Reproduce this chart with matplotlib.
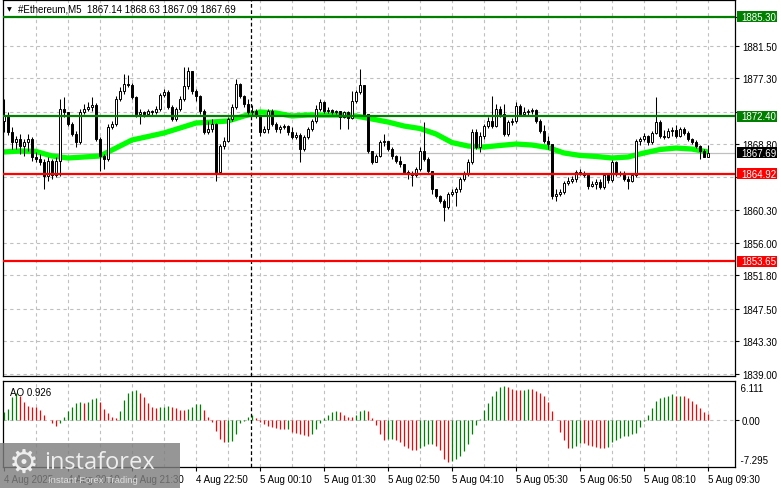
import numpy as np
import matplotlib
matplotlib.use('Agg')
import matplotlib.pyplot as plt
from matplotlib.patches import Rectangle
from matplotlib.transforms import blended_transform_factory

plt.rcParams['font.family'] = ['Liberation Sans', 'DejaVu Sans']

# chart data (ETH M5)
title = '#Ethereum,M5  1867.14 1868.63 1867.09 1867.69'
first_open = 1871.78
closes = [
    1872.43, 1870.36, 1869.06, 1869.45, 1868.54, 1869.06, 1869.45, 1867.12, 1866.86, 1866.47,
    1864.66, 1866.60, 1864.79, 1866.60, 1873.34, 1872.95, 1871.39, 1870.10, 1869.06, 1872.95,
    1873.34, 1873.59, 1873.85, 1869.45, 1867.25, 1866.86, 1871.00, 1871.39, 1874.63, 1875.67,
    1876.57, 1876.44, 1874.89, 1872.69, 1872.95, 1872.69, 1873.08, 1872.95, 1873.34, 1875.15,
    1875.54, 1873.59, 1872.04, 1873.34, 1874.63, 1876.31, 1878.26, 1875.67, 1875.02, 1873.08,
    1870.36, 1870.74, 1871.39, 1865.18, 1868.54, 1869.19, 1872.04, 1873.59, 1876.57, 1875.02,
    1873.98, 1872.95, 1873.08, 1872.43, 1870.36, 1870.74, 1873.08, 1871.39, 1870.74, 1871.00,
    1871.13, 1870.36, 1869.71, 1869.97, 1868.15, 1869.71, 1870.74, 1871.78, 1873.34, 1874.24,
    1873.08, 1873.21, 1872.95, 1873.08, 1872.30, 1872.95, 1872.17, 1874.37, 1875.54, 1876.44,
    1872.69, 1867.90, 1866.47, 1867.25, 1869.06, 1869.19, 1868.15, 1867.25, 1866.60, 1866.21,
    1865.18, 1864.92, 1864.79, 1865.57, 1867.90, 1866.86, 1865.31, 1862.97, 1862.07, 1861.42,
    1860.64, 1862.33, 1862.59, 1862.97, 1864.27, 1864.92, 1866.47, 1870.36, 1868.41, 1869.84,
    1871.13, 1871.78, 1871.13, 1873.34, 1872.69, 1870.10, 1871.65, 1871.78, 1873.72, 1872.69,
    1872.95, 1873.08, 1873.21, 1871.78, 1870.49, 1869.19, 1868.80, 1862.07, 1862.33, 1862.59,
    1863.75, 1864.01, 1864.27, 1865.18, 1865.05, 1864.79, 1863.36, 1863.62, 1863.88, 1863.23,
    1864.79, 1864.14, 1866.47, 1864.92, 1865.05, 1864.27, 1864.01, 1864.79, 1869.19, 1869.45,
    1869.84, 1869.06, 1870.23, 1871.65, 1869.84, 1869.71, 1870.49, 1870.61, 1869.84, 1870.74,
    1870.23, 1869.45, 1869.06, 1868.54, 1867.90, 1867.14, 1867.69]
highs = [
    1874.63, 1872.95, 1871.00, 1869.84, 1870.10, 1869.45, 1870.10, 1869.71, 1867.77, 1867.51,
    1866.86, 1867.12, 1866.86, 1867.12, 1874.63, 1874.89, 1872.95, 1871.65, 1870.49, 1873.34,
    1873.98, 1874.24, 1874.89, 1874.11, 1869.71, 1867.51, 1871.39, 1871.78, 1875.02, 1876.18,
    1877.87, 1877.74, 1876.70, 1875.02, 1873.34, 1873.08, 1873.34, 1873.21, 1873.72, 1875.41,
    1875.93, 1875.80, 1873.85, 1873.59, 1875.02, 1878.77, 1878.77, 1878.26, 1875.93, 1875.15,
    1873.34, 1871.78, 1872.04, 1871.52, 1868.80, 1869.71, 1872.30, 1873.98, 1877.22, 1876.70,
    1875.15, 1874.63, 1873.85, 1873.34, 1872.56, 1871.13, 1873.34, 1873.34, 1871.65, 1871.26,
    1871.39, 1871.26, 1871.00, 1870.36, 1870.23, 1869.97, 1871.00, 1872.04, 1873.85, 1874.63,
    1874.37, 1873.59, 1873.34, 1873.21, 1873.08, 1873.08, 1873.08, 1875.67, 1875.80, 1878.52,
    1876.18, 1872.69, 1867.90, 1867.51, 1869.32, 1870.10, 1869.06, 1868.41, 1867.38, 1867.25,
    1866.21, 1865.44, 1865.31, 1865.82, 1868.41, 1871.65, 1867.12, 1865.31, 1862.97, 1862.20,
    1861.68, 1862.59, 1862.97, 1863.23, 1864.53, 1865.31, 1866.86, 1870.74, 1870.74, 1870.36,
    1871.39, 1872.30, 1875.02, 1873.98, 1873.72, 1873.98, 1871.91, 1872.17, 1874.24, 1873.98,
    1873.59, 1873.34, 1873.46, 1873.34, 1872.04, 1871.26, 1869.84, 1868.80, 1862.97, 1862.97,
    1864.01, 1864.53, 1864.66, 1865.44, 1865.57, 1865.31, 1864.92, 1864.01, 1864.27, 1864.27,
    1865.05, 1864.92, 1866.73, 1866.60, 1865.31, 1865.31, 1864.66, 1865.05, 1869.45, 1869.71,
    1870.23, 1869.97, 1870.49, 1874.89, 1871.91, 1870.61, 1870.87, 1871.00, 1871.26, 1871.00,
    1871.00, 1870.49, 1869.58, 1869.32, 1868.67, 1868.15, 1868.63]
lows = [
    1870.36, 1869.97, 1868.15, 1868.15, 1867.51, 1867.25, 1867.90, 1866.60, 1866.47, 1866.08,
    1862.97, 1864.01, 1864.27, 1864.53, 1864.66, 1872.30, 1871.13, 1869.84, 1868.41, 1868.80,
    1872.69, 1873.08, 1873.08, 1869.19, 1865.31, 1865.57, 1866.60, 1870.74, 1871.13, 1874.37,
    1875.28, 1876.18, 1874.63, 1872.30, 1871.39, 1872.30, 1872.43, 1872.56, 1872.69, 1873.08,
    1874.89, 1873.34, 1871.78, 1871.78, 1873.08, 1874.37, 1875.93, 1875.28, 1874.37, 1872.69,
    1870.10, 1870.10, 1870.36, 1864.01, 1864.92, 1868.15, 1869.06, 1871.78, 1873.34, 1874.76,
    1873.59, 1872.69, 1872.56, 1872.17, 1869.84, 1870.23, 1870.23, 1871.13, 1870.36, 1870.23,
    1870.74, 1869.97, 1869.45, 1869.45, 1866.47, 1867.90, 1869.45, 1870.49, 1871.52, 1873.08,
    1872.82, 1872.82, 1872.69, 1872.69, 1870.74, 1872.17, 1870.74, 1872.04, 1874.11, 1875.28,
    1872.43, 1867.64, 1866.21, 1866.60, 1867.12, 1868.54, 1867.90, 1866.86, 1866.34, 1865.82,
    1864.92, 1864.27, 1863.36, 1864.53, 1865.31, 1866.60, 1865.05, 1862.33, 1861.81, 1861.16,
    1858.83, 1860.39, 1862.07, 1860.77, 1862.59, 1864.01, 1864.66, 1866.21, 1868.15, 1867.77,
    1869.45, 1870.87, 1870.87, 1871.00, 1872.30, 1869.84, 1869.84, 1871.26, 1871.52, 1872.43,
    1872.56, 1872.56, 1872.69, 1871.52, 1870.23, 1868.93, 1868.15, 1861.68, 1861.42, 1862.07,
    1862.33, 1863.49, 1863.75, 1863.88, 1864.79, 1864.53, 1862.97, 1863.23, 1862.97, 1862.97,
    1862.97, 1863.75, 1863.88, 1864.66, 1864.66, 1864.01, 1862.97, 1863.88, 1864.53, 1868.67,
    1869.19, 1868.67, 1868.80, 1870.10, 1869.58, 1869.45, 1869.58, 1869.84, 1869.58, 1869.71,
    1869.97, 1869.19, 1868.80, 1868.28, 1866.86, 1867.12, 1867.09]

# green moving average, sampled every 4th bar
ma_bars = list(range(0, 177, 4))
ma_values = [
    1867.77, 1867.90, 1867.84, 1867.25, 1866.99, 1867.12, 1867.25, 1868.28, 1869.32, 1869.77,
    1870.23, 1870.87, 1871.52, 1871.65, 1871.78, 1872.43, 1872.95, 1872.82, 1872.43, 1872.56,
    1872.56, 1872.56, 1872.43, 1872.04, 1871.65, 1871.13, 1870.81, 1870.10, 1868.99, 1868.54,
    1868.41, 1868.61, 1868.80, 1868.67, 1868.35, 1867.64, 1867.32, 1867.19, 1866.99, 1867.12,
    1867.64, 1868.09, 1868.28, 1868.15, 1867.77]

# awesome oscillator
ao_values = [
    1.25, 1.77, 3.59, 4.27, 3.75, 2.92, 2.19, 2.14, 2.08, 1.61,
    0.83, 0.10, -0.47, -0.94, -0.47, 0.57, 1.41, 2.03, 2.76, 2.86,
    2.71, 2.92, 3.33, 3.49, 2.81, 1.77, 1.09, 0.57, 0.36, 1.51,
    3.23, 4.27, 4.64, 4.74, 4.27, 3.59, 2.71, 2.03, 1.88, 2.08,
    2.14, 2.19, 2.03, 1.88, 1.67, 1.61, 1.77, 2.03, 2.50, 2.60,
    1.61, 0.47, -0.31, -1.61, -2.92, -3.44, -3.39, -3.18, -2.14, -0.47,
    -0.05, 0.47, 0.83, 0.31, -0.21, -0.57, -0.83, -1.09, -1.25, -1.35,
    -1.41, -1.30, -1.88, -2.03, -2.14, -2.29, -2.40, -2.14, -1.35, -0.47,
    0.31, 0.83, 1.25, 1.41, 1.25, 0.83, 0.57, 0.52, 0.83, 1.51,
    1.67, 1.41, 0.31, -0.68, -2.14, -3.07, -2.92, -2.86, -3.07, -3.33,
    -3.96, -4.32, -4.58, -4.69, -4.38, -3.96, -3.70, -3.65, -3.96, -4.64,
    -6.04, -6.56, -6.41, -6.04, -5.52, -4.74, -3.70, -2.14, -0.68, 0.16,
    1.67, 2.71, 3.85, 4.53, 5.16, 5.42, 5.16, 4.90, 4.79, 4.74,
    4.79, 4.90, 4.84, 4.64, 4.27, 3.85, 2.81, 1.41, 0.10, -1.77,
    -3.02, -4.32, -4.30, -3.96, -3.54, -3.59, -3.80, -3.96, -4.22, -4.32,
    -4.36, -4.22, -3.33, -3.02, -2.76, -2.50, -2.40, -2.14, -1.98, -1.09,
    -0.16, 0.83, 1.88, 3.07, 3.44, 3.59, 3.85, 4.11, 3.75, 3.85,
    3.75, 3.44, 3.02, 2.55, 1.88, 1.25, 0.926]
ao_label = 'AO 0.926'
ao_max_label = '6.111'
ao_min_label = '-7.295'

green_levels = [1885.30, 1872.40]
red_levels = [1864.92, 1853.65]
price_ticks = [1885.30, 1881.50, 1877.30, 1873.00, 1868.80, 1864.50,
               1860.30, 1856.00, 1851.80, 1847.50, 1843.30, 1839.00]
# these three sit under the level boxes on the price scale
hidden_ticks = [1885.30, 1873.00, 1864.50]
time_label_bars = list(range(0, 177, 16))
time_labels = ['4 Aug 2025', '4 Aug 20:10', '4 Aug 21:30', '4 Aug 22:50',
               '5 Aug 00:10', '5 Aug 01:30', '5 Aug 02:50', '5 Aug 04:10',
               '5 Aug 05:30', '5 Aug 06:50', '5 Aug 08:10', '5 Aug 09:30']
separator_bar = 61.75

W, H = 781, 489
fig = plt.figure(figsize=(W / 100, H / 100), dpi=100)
ax = fig.add_axes([3 / W, 1 - 377 / H, 732 / W, 376 / H])
ax2 = fig.add_axes([3 / W, 1 - 468 / H, 732 / W, 86.5 / H], sharex=ax)

n = len(closes)
x = np.arange(n)
c = np.array(closes)
o = np.array([first_open] + closes[:-1])
hi = np.maximum(np.array(highs), np.maximum(o, c))
lo = np.minimum(np.array(lows), np.minimum(o, c))

grid_kw = dict(color='#c0c0c0', lw=0.8, ls=(0, (3, 3)), zorder=0)
for a in (ax, ax2):
    for b in range(8, n, 8):
        a.axvline(b, **grid_kw)
    a.axvline(separator_bar, color='black', lw=0.9, ls=(0, (3, 2)), zorder=1)
    for s in a.spines.values():
        s.set_linewidth(0.9)
for p in price_ticks:
    ax.axhline(p, **grid_kw)

# bid line
ax.axhline(closes[-1], color='#c0c0c0', lw=0.9, zorder=1)

# moving average
ax.plot(ma_bars, ma_values, color='#00ff00', lw=3.8, zorder=2, solid_capstyle='butt')

# candles
ax.vlines(x, lo, hi, color='black', lw=0.75, zorder=3)
up = c >= o
ax.bar(x[up], (c - o)[up], bottom=o[up], width=0.6, color='white',
       edgecolor='black', lw=0.7, zorder=4)
ax.bar(x[~up], (o - c)[~up], bottom=c[~up], width=0.6, color='black',
       edgecolor='black', lw=0.7, zorder=4)

for v in green_levels:
    ax.axhline(v, color='#007f00', lw=1.6, zorder=5)
for v in red_levels:
    ax.axhline(v, color='#ff0000', lw=1.6, zorder=5)

ymin, ymax = 1838.76, 1887.45
ax.set_ylim(ymin, ymax)
ax.set_xlim(-0.25, 182.75)
ax.yaxis.tick_right()
ax.set_yticks(price_ticks)
ax.set_yticklabels(['' if p in hidden_ticks else '%.2f' % p for p in price_ticks])
ax.tick_params(axis='y', length=3, width=0.8, pad=2, labelsize=7)
ax.tick_params(axis='x', bottom=False, labelbottom=False)

# value boxes on the price scale
per_px = (ymax - ymin) / 376
tr = blended_transform_factory(fig.transFigure, ax.transData)
boxes = [(v, '#007f00') for v in green_levels] + [(v, '#ff0000') for v in red_levels] \
    + [(closes[-1], 'black')]
for v, col in boxes:
    ax.add_patch(Rectangle((737 / W, v - 5.5 * per_px), 40 / W, 11 * per_px,
                           transform=tr, fc=col, ec='none', clip_on=False, zorder=8))
    ax.text(741 / W, v, '%.2f' % v, transform=tr, color='white', fontsize=7,
            va='center', ha='left', zorder=9, clip_on=False)

fig.text(7 / W, 1 - 10 / H, '▼', fontsize=4.5, va='center', family='DejaVu Sans')
fig.text(18 / W, 1 - 10 / H, title, fontsize=7, va='center')

# AO panel
ao = np.array(ao_values)
rising = np.r_[True, ao[1:] >= ao[:-1]]
ax2.vlines(x[rising], 0, ao[rising], color='#008000', lw=0.9, zorder=3)
ax2.vlines(x[~rising], 0, ao[~rising], color='#ff0000', lw=0.9, zorder=3)
ax2.axhline(0, **grid_kw)
ax2.set_ylim(-7.29, 6.21)
ax2.yaxis.tick_right()
ax2.set_yticks([0])
ax2.set_yticklabels(['0.00'])
ax2.tick_params(axis='y', length=3, width=0.8, pad=2, labelsize=7)
ax2.text(1.0, 0.913, '  ' + ao_max_label, transform=ax2.transAxes, fontsize=7,
         va='center', ha='left')
ax2.text(1.0, 0.08, '  ' + ao_min_label, transform=ax2.transAxes, fontsize=7,
         va='center', ha='left')
ax2.text(7 / 732, 0.87, ao_label, transform=ax2.transAxes, fontsize=7, va='center')
ax2.set_xticks(time_label_bars)
ax2.set_xticklabels(time_labels)
ax2.tick_params(axis='x', length=3, width=0.8, pad=2, labelsize=7)
for lbl in ax2.get_xticklabels():
    lbl.set_ha('left')

# watermark
fig.add_artist(Rectangle((0, 0), 180 / W, 45 / H, transform=fig.transFigure,
                         fc='#7f7f7f', ec='none', alpha=0.82, zorder=20))
fig.text(24 / W, 1 - 463 / H, '⚙', fontsize=24, color='#eeeeee', ha='center',
         va='center', family='DejaVu Sans', zorder=21)
fig.text(44 / W, 1 - 469 / H, 'instaforex', fontsize=17, color='#eeeeee',
         family='Open Sans', va='baseline', zorder=21)
fig.text(48 / W, 1 - 481 / H, 'Instant Forex Trading', fontsize=6.8, color='#dddddd',
         va='center', zorder=21)

fig.savefig('out.png', dpi=100)
